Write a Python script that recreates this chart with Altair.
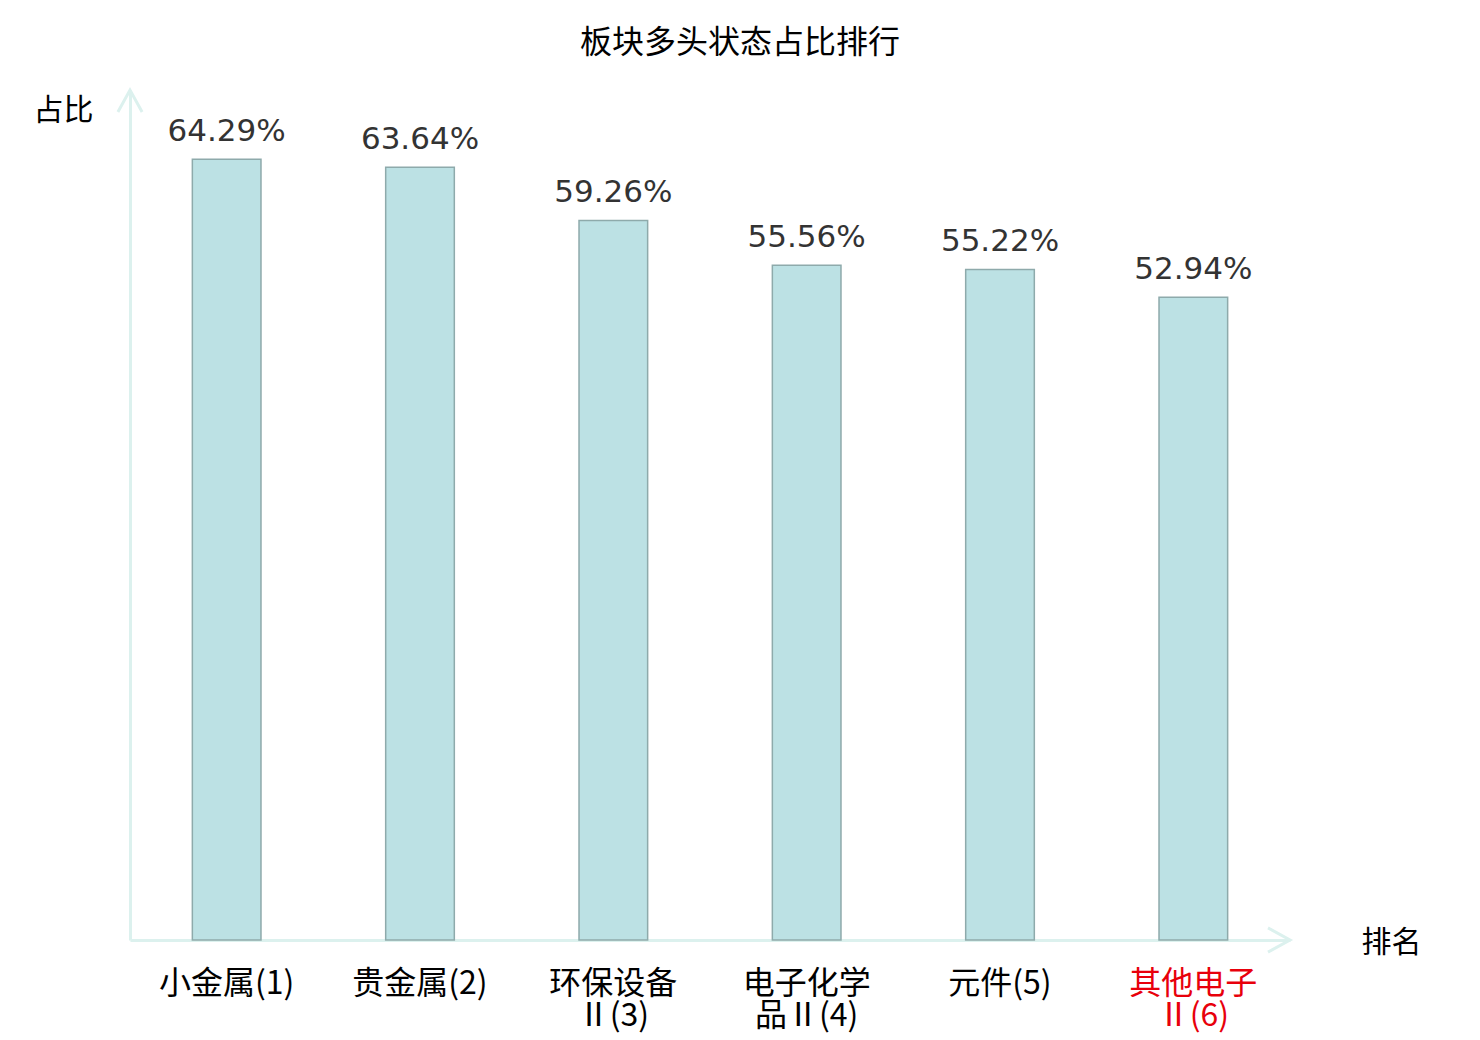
import altair as alt
import pandas as pd

categories = ["小金属(1)", "贵金属(2)", "环保设备Ⅱ(3)", "电子化学品Ⅱ(4)", "元件(5)", "其他电子Ⅱ(6)"]
values = [64.29, 63.64, 59.26, 55.56, 55.22, 52.94]
highlight = "其他电子Ⅱ(6)"

title_text = "板块多头状态占比排行"
y_title = "占比"
x_title = "排名"

df = pd.DataFrame({"cat": categories, "value": values})

W, H = 1160, 850
AXIS_COLOR = "#dcf1ee"
CJK = "Noto Sans CJK SC"

x_enc = alt.X(
    "cat:N",
    sort=None,
    scale=alt.Scale(paddingInner=0.645, paddingOuter=0.3225),
    axis=alt.Axis(
        title=x_title,
        titleAngle=0,
        titleX=1261,
        titleY=2,
        titleAlign="center",
        titleBaseline="middle",
        titleFont=CJK,
        titleFontSize=30,
        titleFontWeight="normal",
        titleColor="black",
        labelAngle=0,
        labelFont=CJK,
        labelFontSize=32,
        labelLineHeight=32,
        labelPadding=28,
        labelColor={"condition": {"test": f"datum.value == '{highlight}'", "value": "#e8000b"}, "value": "black"},
        labelExpr="length(datum.label) > 6 ? [substring(datum.label, 0, 4), substring(datum.label, 4)] : datum.label",
        ticks=False,
        domainColor=AXIS_COLOR,
        domainWidth=3,
        grid=False,
    ),
)

y_enc = alt.Y(
    "value:Q",
    scale=alt.Scale(domain=[0, 70], nice=False),
    axis=alt.Axis(
        title=y_title,
        titleAngle=0,
        titleX=-67,
        titleY=20,
        titleAlign="center",
        titleBaseline="middle",
        titleFont=CJK,
        titleFontSize=30,
        titleFontWeight="normal",
        titleColor="black",
        labels=False,
        ticks=False,
        grid=False,
        domainColor=AXIS_COLOR,
        domainWidth=3,
    ),
)

base = alt.Chart(df)

bars = base.mark_bar(
    fill="#bce1e4", stroke="#8eaaab", strokeWidth=1.5
).encode(x=x_enc, y=y_enc)

labels = base.transform_calculate(
    txt="format(datum.value, '.2f') + '%'"
).mark_text(
    font="DejaVu Sans", fontSize=31, color="#333333", baseline="alphabetic", dy=-18
).encode(x=alt.X("cat:N", sort=None), y="value:Q", text="txt:N")

title_mark = alt.Chart(pd.DataFrame({"t": [title_text]})).mark_text(
    font=CJK, fontSize=32, color="black", baseline="middle", align="center"
).encode(x=alt.value(610), y=alt.value(-47), text="t:N")

arrow_x = alt.Chart(pd.DataFrame({"a": [0]})).mark_point(
    shape="M -1 -0.55 L 0 0 L -1 0.55", filled=False, stroke=AXIS_COLOR,
    strokeWidth=3, size=1936, opacity=1
).encode(x=alt.value(W), y=alt.value(H))

arrow_y = alt.Chart(pd.DataFrame({"a": [0]})).mark_point(
    shape="M -0.55 1 L 0 0 L 0.55 1", filled=False, stroke=AXIS_COLOR,
    strokeWidth=3, size=1936, opacity=1
).encode(x=alt.value(0), y=alt.value(0))

chart = alt.layer(bars, labels, title_mark, arrow_x, arrow_y).properties(
    width=W,
    height=H,
    background="white",
    autosize=alt.AutoSizeParams(type="none"),
    padding={"left": 122, "top": 82, "right": 180, "bottom": 98},
).configure_view(stroke=None)

chart.save("out.html", embed_options={"renderer": "svg", "actions": False})
